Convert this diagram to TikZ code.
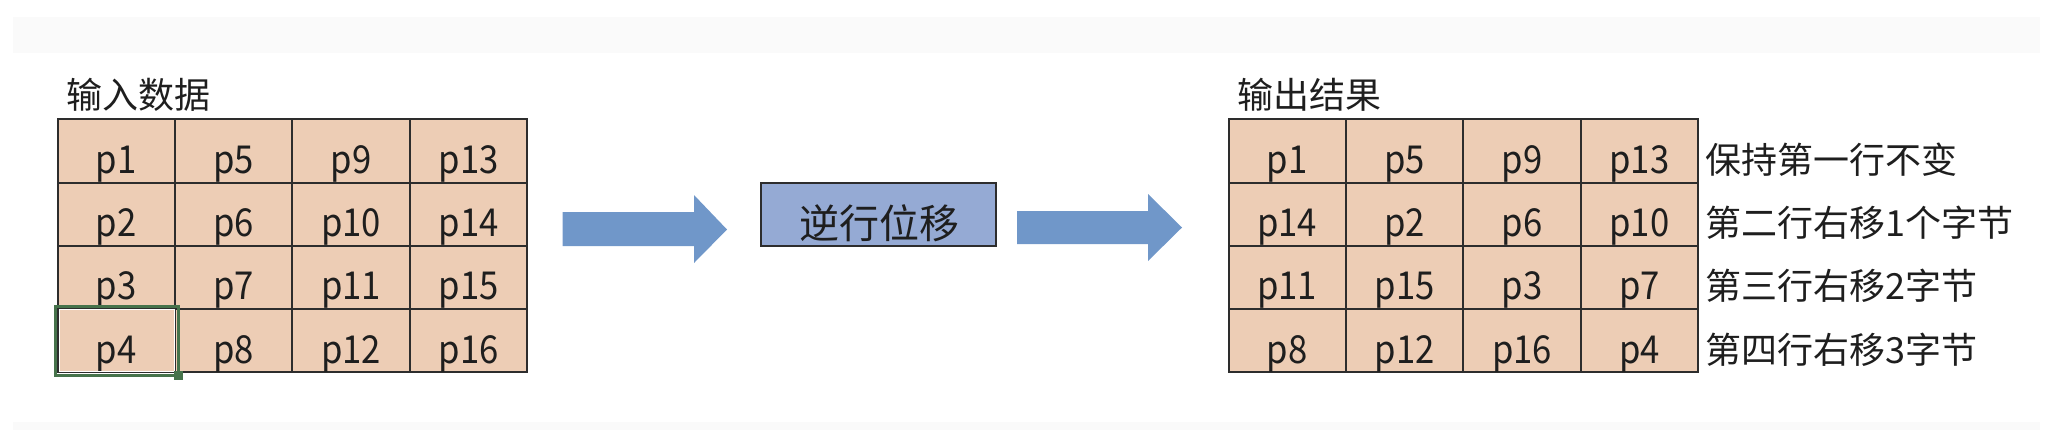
\documentclass[tikz,border=0pt]{standalone}
\usepackage{fontspec}
\setmainfont{Noto Sans CJK SC}
\newfontfamily\cellfont[FakeStretch=0.9]{Noto Sans CJK SC}
\definecolor{cellfill}{RGB}{237,205,181}
\definecolor{gridline}{RGB}{45,45,45}
\definecolor{boxfill}{RGB}{149,170,212}
\definecolor{arrowfill}{RGB}{112,151,201}
\definecolor{selgreen}{RGB}{70,115,75}
\definecolor{bandgray}{RGB}{250,250,250}
\definecolor{txt}{RGB}{30,30,30}
\tikzset{
  cellbox/.style={draw=gridline, line width=1pt, fill=cellfill, inner sep=0pt,
    minimum width=58.7pt, minimum height=31.6pt},
  celltext/.style={anchor=base, inner sep=0pt, text=txt,
    font=\cellfont\fontsize{19.25pt}{21pt}\selectfont},
  sidetext/.style={anchor=base west, inner sep=0pt, text=txt,
    font=\fontsize{18pt}{20pt}\selectfont},
  boxnode/.style={draw=gridline, line width=1pt, fill=boxfill, inner sep=0pt,
    minimum width=117.6pt, minimum height=31.7pt},
  boxtext/.style={anchor=base, inner sep=0pt, text=txt,
    font=\fontsize{20pt}{22pt}\selectfont},
  blockarrow/.style={fill=arrowfill}
}
\begin{document}
\begin{tikzpicture}[x=0.5pt,y=-0.5pt]
\useasboundingbox (0,0) rectangle (2054,430);
\fill[bandgray] (13,17) rectangle (2040,53);
\fill[bandgray] (13,422) rectangle (2040,430);

% titles
\node[sidetext] (intitle) at (66,108) {输入数据};
\node[sidetext] (outtitle) at (1237,108) {输出结果};

% input grid
\foreach \t [count=\k from 0] in {p1,p5,p9,p13,p2,p6,p10,p14,p3,p7,p11,p15,p4,p8,p12,p16} {
  \pgfmathtruncatemacro\rr{int(\k/4)}
  \pgfmathtruncatemacro\cc{mod(\k,4)}
  \node[cellbox] (in-\rr-\cc) at ({57.6+117.4*(\cc+0.5)},{119.3+63.2*(\rr+0.5)}) {};
  \node[celltext] (tin-\rr-\cc) at ({57.6+117.4*(\cc+0.5)},{119.3+63.2*(\rr+1)-9}) {\t};
}

% selection frame on p4
\draw[selgreen, line width=1.5pt] ([xshift=-0.5pt,yshift=-1pt]in-3-0.south west) rectangle ([xshift=1.2pt,yshift=0.8pt]in-3-0.north east);
\draw[white, line width=0.5pt] ([xshift=1.3pt,yshift=0.8pt]in-3-0.south west) rectangle ([xshift=-0.6pt,yshift=-1pt]in-3-0.north east);
\fill[selgreen] ([xshift=-1.2pt,yshift=-3.3pt]in-3-0.south east) rectangle ([xshift=3.3pt,yshift=1.2pt]in-3-0.south east);

% output grid
\foreach \t [count=\k from 0] in {p1,p5,p9,p13,p14,p2,p6,p10,p11,p15,p3,p7,p8,p12,p16,p4} {
  \pgfmathtruncatemacro\rr{int(\k/4)}
  \pgfmathtruncatemacro\cc{mod(\k,4)}
  \node[cellbox] (out-\rr-\cc) at ({1228.5+117.4*(\cc+0.5)},{119.3+63.2*(\rr+0.5)}) {};
  \node[celltext] (tout-\rr-\cc) at ({1228.5+117.4*(\cc+0.5)},{119.3+63.2*(\rr+1)-9}) {\t};
}

% side labels
\node[sidetext] (lab0) at (1705,173.5) {保持第一行不变};
\node[sidetext] (lab1) at (1705,236.7) {第二行右移1个字节};
\node[sidetext] (lab2) at (1705,299.9) {第三行右移2字节};
\node[sidetext] (lab3) at (1705,363.1) {第四行右移3字节};

% process box
\node[boxnode] (shift) at (878.4,214.4) {};
\node[boxtext] (shifttext) at (879,238) {逆行位移};

% block arrows
\fill[blockarrow] (562.7,212) -- (694,212) -- (694,195) -- (727,229.5) -- (694,263) -- (694,246) -- (562.7,246) -- cycle;
\fill[blockarrow] (1017,211) -- (1148,211) -- (1148,194) -- (1182,227.5) -- (1148,261) -- (1148,244) -- (1017,244) -- cycle;
\end{tikzpicture}
\end{document}
